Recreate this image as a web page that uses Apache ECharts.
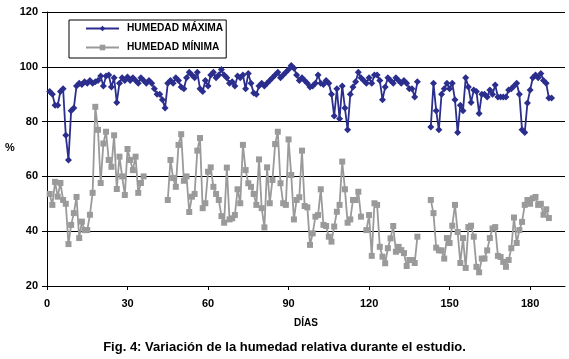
<!DOCTYPE html>
<html>
<head>
<meta charset="utf-8">
<script src="https://cdn.jsdelivr.net/npm/echarts@6/dist/echarts.min.js"></script>
<style>
  html, body { margin: 0; padding: 0; background: #fff; }
  #container { width: 569px; height: 359px; }
</style>
</head>
<body>
<div id="container"></div>
<script>
// dia 1 es el primer punto de cada serie
var firstDay = 1;

// humedad maxima (%), null = sin dato
var humMax = [
  91, 90, 86, 86, 91, 92, 75, 66, 84, 85,
  93, 94, 93.5, 94.5, 94, 95, 94, 94.5, 95, 96.6,
  93, 96.6, 97, 92.6, 96, 87, 94, 96, 95, 96.3,
  95, 96, 95, 94, 96, 95, 94, 95, 94, 92,
  90, 90, 88, 85, 94, 95, 94, 96, 95, 92.6,
  92, 96, 98, 97, 96, 98, 92, 91, 95, 93,
  97, 98, 96, 97, 99, 97, 96, 94, 94.5, 93,
  96.6, 96, 97, 92, 97.6, 94, 90.4, 90, 93, 94,
  93, 94, 95, 96, 97, 98, 96, 97, 98, 99,
  100.5, 99.5, 97, 95, 96, 95, 94, 92.6, 93, 94,
  97, 94, 93.5, 95, 94, 90, 82, 92, 81, 93,
  85, 77, 90, 92.6, 94.5, 98, 96, 95, 94, 96,
  94, 97, 97, 95, 88, 92.6, 96, 95, 94, 96,
  95, 94, 95, 94, 92, 92, 89, 94.5, null, null,
  null, null, 78, 94, 84, 77, 90, 92, 94, 92,
  94, 88, 76, 86, 84, 96, 92.6, 87, 91.5, 91,
  83, 90, 90, 89, 91.5, 90, 93.4, 89, 89, 89,
  89, 91.5, 92, 93, 94, 90, 77, 76, 86.8, 91.5,
  96, 97, 96, 97.6, 95, 94, 88.6, 88.6
];

// humedad minima (%), null = sin dato
var humMin = [
  53.6, 49.6, 58, 52.6, 57.6, 51.4, 50, 35.3, 42.3, 46.6,
  52.5, 37.5, 43.5, 40.4, 40.4, 46, 54, 85.4, 77, 57.6,
  72, 76.3, 66, 63.5, 75, 55.4, 67.2, 60, 53.2, 70,
  66, 62.3, 67.2, 54, 57.6, 60, null, null, null, null,
  null, null, null, null, 51.4, 66, 59.4, 56.2, 71.5, 75.4,
  58.4, 60, 47, 52.6, 53.6, 69.4, 74, 48.4, 50.2, 61.7,
  63.3, 56.2, 53.6, 51.4, 45.5, 43.1, 63.2, 44.3, 44.7, 45.9,
  55.3, 50.2, 71.5, 62.3, 57.5, 56.2, 53.6, 49.6, 66.2, 48.4,
  41.4, 63.3, 50.2, 58.7, 71.8, 76.3, 57.5, 50.2, 49.6, 73.5,
  60.5, 44.3, 51.4, 52.4, 69.4, 49.2, 48.7, 35, 39.2, 45.3,
  45.9, 55.3, 42.3, 41.9, 38, 36.2, 41.7, 47.1, 49.6, 65.4,
  55.3, 43.1, 44.3, 51.4, 51.4, 54.4, 45.3, null, 40.4, 45.9,
  31, 50.2, 49.6, 34.3, 30.7, 28.3, 33.8, 37.4, 41.9, 32.5,
  34.3, 33.1, 32, 27.3, 29.5, 29.5, 28.4, 38, null, null,
  null, null, 51.4, 46.6, 34, 33, 33, 30, 37.5, 35.7,
  42, 49.6, 39.7, 28.4, 37.5, 26.6, 41.5, 42, 38, 27,
  25, 30, 30, 33, 37.5, 41, 41.5, 31, 30.6, 28.8,
  27, 29.5, 33.8, 45, 35.7, 40.4, 43.4, 49.6, 51.4, 50,
  52, 52.5, 49.6, 50, 46, 48, 44.8, null
];

var yTicks = [20, 40, 60, 80, 100, 120];
var seriesNames = ['HUMEDAD MÁXIMA', 'HUMEDAD MÍNIMA'];
var caption = 'Fig. 4: Variación de la humedad relativa durante el estudio.';

function toPairs(values) {
  return values.map(function (v, i) {
    return [firstDay + i, v];
  });
}

var font = 'Liberation Sans, Arial, sans-serif';
var myChart = echarts.init(document.getElementById('container'));

var option = {
  animation: false,
  backgroundColor: '#fff',
  grid: { left: 47, right: 4, top: 12, bottom: 73 },
  title: {
    text: caption,
    left: 'center',
    top: 336,
    textStyle: { fontFamily: font, fontWeight: 'bold', fontSize: 13, color: '#000' }
  },
  legend: {
    orient: 'vertical',
    left: 69,
    top: 20,
    padding: [2, 3, 4, 16],
    itemGap: 6,
    itemWidth: 33,
    itemHeight: 7,
    borderColor: '#000',
    borderWidth: 1,
    data: seriesNames,
    textStyle: { fontFamily: font, fontWeight: 'bold', fontSize: 10.2, color: '#000', lineHeight: 13, padding: [0, 0, 0, 3] }
  },
  graphic: [{
    type: 'text',
    left: 5,
    top: 142,
    style: { text: '%', font: 'bold 11px ' + font, fill: '#000' }
  }],
  xAxis: {
    type: 'value',
    min: 0,
    max: 193,
    interval: 30,
    name: 'DÍAS',
    nameLocation: 'middle',
    nameGap: 32,
    nameTextStyle: { fontFamily: font, fontWeight: 'bold', fontSize: 10, color: '#000' },
    axisLine: { lineStyle: { color: '#000', width: 1 } },
    axisTick: { length: 4, lineStyle: { color: '#000' } },
    axisLabel: { showMaxLabel: false, margin: 12, fontFamily: font, fontWeight: 'bold', fontSize: 11, color: '#000' },
    splitLine: { show: false }
  },
  yAxis: {
    type: 'value',
    min: yTicks[0],
    max: yTicks[yTicks.length - 1],
    interval: 20,
    axisLine: { show: true, lineStyle: { color: '#000', width: 1 } },
    axisTick: { show: true, length: 5, lineStyle: { color: '#000' } },
    axisLabel: { margin: 9, fontFamily: font, fontWeight: 'bold', fontSize: 11, color: '#000' },
    splitLine: { show: true, lineStyle: { color: '#000', width: 1 } }
  },
  series: [
    {
      name: seriesNames[0],
      type: 'line',
      data: toPairs(humMax),
      symbol: 'diamond',
      symbolSize: 7,
      showAllSymbol: true,
      connectNulls: false,
      itemStyle: { color: '#2b2e8c' },
      lineStyle: { color: '#2b2e8c', width: 1.8 },
      z: 3
    },
    {
      name: seriesNames[1],
      type: 'line',
      data: toPairs(humMin),
      symbol: 'rect',
      symbolSize: 6,
      showAllSymbol: true,
      connectNulls: false,
      itemStyle: { color: '#9a9a9a' },
      lineStyle: { color: '#9a9a9a', width: 1.8 },
      z: 2
    }
  ]
};

myChart.setOption(option);
</script>
</body>
</html>
